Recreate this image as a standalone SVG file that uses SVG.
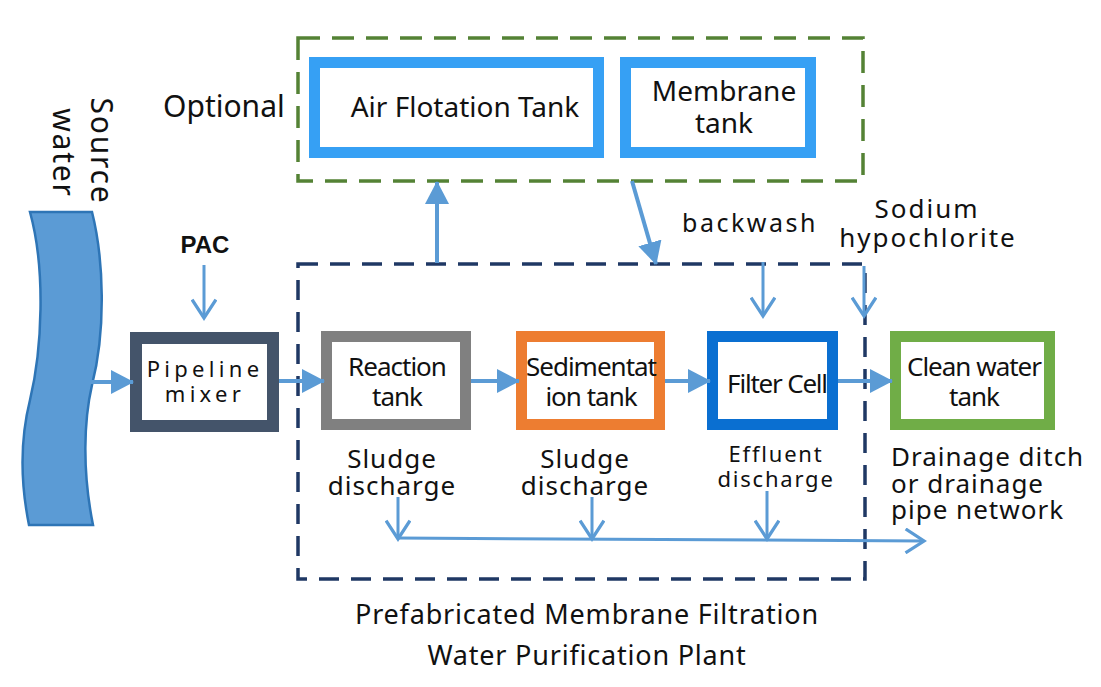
<svg xmlns="http://www.w3.org/2000/svg" width="1101" height="687" viewBox="0 0 1101 687">
<style>
text{font-family:"Noto Sans","DejaVu Sans",sans-serif;fill:#111;}
.box{fill:#fff;}
.lbl{font-size:26px;letter-spacing:-1px;text-anchor:middle;}
.opt{font-size:28px;letter-spacing:0px;text-anchor:middle;}
.cap{font-size:26px;letter-spacing:1px;text-anchor:middle;}
.conn{stroke:#5b9bd5;stroke-width:4;fill:none;}
.thin{stroke:#5b9bd5;stroke-width:3;fill:none;}
</style>
<defs>
<marker id="tri" markerUnits="userSpaceOnUse" markerWidth="24" markerHeight="26" refX="22" refY="12" orient="auto" viewBox="0 0 24 24">
<path d="M0,0 L23,12 L0,24 Z" fill="#5b9bd5"/>
</marker>
<marker id="chev" markerUnits="userSpaceOnUse" markerWidth="26" markerHeight="26" refX="19" refY="12" orient="auto" viewBox="0 0 24 24">
<path d="M2,1 L19,12 L2,23" fill="none" stroke="#5b9bd5" stroke-width="3"/>
</marker>
</defs>
<rect width="1101" height="687" fill="#fff"/>

<g id="source-water">
<path d="M30,212 L92,212 C104,260 106,330 92,385 C84,420 82,470 93,525 L29,525 C20,480 20,440 30,400 C42,350 46,270 30,212 Z" fill="#5b9bd5" stroke="#2e75b6" stroke-width="2.5"/>
<text transform="translate(91,151) rotate(90)" style="font-size:30px;letter-spacing:1.8px;text-anchor:middle">Source</text>
<text transform="translate(53,153) rotate(90)" style="font-size:30px;letter-spacing:1.8px;text-anchor:middle">water</text>
</g>

<g id="optional-group">
<rect x="298" y="38" width="565" height="143" fill="none" stroke="#548235" stroke-width="3.5" stroke-dasharray="22,12"/>
<text x="163" y="117" style="font-size:30px">Optional</text>
</g>

<g id="plant-group">
<rect x="298" y="264" width="567" height="315" fill="none" stroke="#1f3864" stroke-width="3.5" stroke-dasharray="20,12"/>
<text x="587" y="624" style="font-size:27px;letter-spacing:0.8px;text-anchor:middle">Prefabricated Membrane Filtration</text>
<text x="587" y="665" style="font-size:27px;letter-spacing:0.8px;text-anchor:middle">Water Purification Plant</text>
</g>

<g id="pac">
<text x="205" y="253" style="font-family:'Liberation Sans',Arial,sans-serif;font-weight:bold;font-size:24px;text-anchor:middle">PAC</text>
</g>

<g id="pipeline-mixer">
<rect class="box" x="136" y="338" width="137" height="88" stroke="#44546a" stroke-width="12"/>
<text x="205" y="377" style="font-size:22px;letter-spacing:4.3px;text-anchor:middle">Pipeline</text>
<text x="205" y="402" style="font-size:22px;letter-spacing:4.3px;text-anchor:middle">mixer</text>
</g>

<g id="air-flotation-tank">
<rect class="box" x="314.5" y="62.5" width="284" height="90" stroke="#36a0f4" stroke-width="11"/>
<text class="opt" x="465" y="117">Air Flotation Tank</text>
</g>

<g id="membrane-tank">
<rect class="box" x="625.5" y="62.5" width="185" height="90" stroke="#36a0f4" stroke-width="11"/>
<text class="opt" x="724" y="101">Membrane</text>
<text class="opt" x="724" y="133">tank</text>
</g>

<g id="reaction-tank">
<rect class="box" x="326.5" y="336.5" width="139" height="88" stroke="#808080" stroke-width="11"/>
<text class="lbl" x="397" y="376">Reaction</text>
<text class="lbl" x="397" y="406">tank</text>
<text class="cap" x="392" y="468">Sludge</text>
<text class="cap" x="392" y="495">discharge</text>
</g>

<g id="sedimentation-tank">
<rect class="box" x="521.5" y="336.5" width="138" height="88" stroke="#ed7d31" stroke-width="11"/>
<text class="lbl" x="591" y="376">Sedimentat</text>
<text class="lbl" x="591" y="406">ion tank</text>
<text class="cap" x="585" y="468">Sludge</text>
<text class="cap" x="585" y="495">discharge</text>
</g>

<g id="filter-cell">
<rect class="box" x="712.5" y="336.5" width="120" height="88" stroke="#0a6fd1" stroke-width="11"/>
<text class="lbl" x="777" y="393" style="letter-spacing:-1.2px">Filter Cell</text>
<text x="776" y="462" style="font-size:22px;letter-spacing:1.8px;text-anchor:middle">Effluent</text>
<text x="776" y="487" style="font-size:22px;letter-spacing:1.8px;text-anchor:middle">discharge</text>
</g>

<g id="clean-water-tank">
<rect class="box" x="895.5" y="336.5" width="154" height="88" stroke="#70ad47" stroke-width="11"/>
<text class="lbl" x="974" y="376">Clean water</text>
<text class="lbl" x="974" y="406">tank</text>
<text x="891" y="466" style="font-size:26px;letter-spacing:1px">Drainage ditch</text>
<text x="891" y="493" style="font-size:26px;letter-spacing:1px">or drainage</text>
<text x="891" y="519" style="font-size:26px;letter-spacing:1px">pipe network</text>
</g>

<g id="backwash-label">
<text x="750" y="232" style="font-size:25px;letter-spacing:2.5px;text-anchor:middle">backwash</text>
</g>

<g id="sodium-hypochlorite">
<text x="927" y="218" style="font-size:26px;letter-spacing:2px;text-anchor:middle">Sodium</text>
<text x="928" y="247" style="font-size:26px;letter-spacing:2px;text-anchor:middle">hypochlorite</text>
</g>

<g id="connectors">
<line class="conn" x1="88" y1="382" x2="133" y2="382" marker-end="url(#tri)"/>
<line class="conn" x1="279" y1="381" x2="324" y2="381" marker-end="url(#tri)"/>
<line class="conn" x1="471" y1="381" x2="519" y2="381" marker-end="url(#tri)"/>
<line class="conn" x1="665" y1="381" x2="710" y2="381" marker-end="url(#tri)"/>
<line class="conn" x1="838" y1="381" x2="892" y2="381" marker-end="url(#tri)"/>
<line class="conn" x1="437" y1="263" x2="437" y2="182" marker-end="url(#tri)"/>
<line class="conn" x1="632" y1="181" x2="656" y2="264" marker-end="url(#tri)"/>
<line class="thin" x1="204" y1="265" x2="204" y2="318" marker-end="url(#chev)"/>
<line class="thin" x1="763" y1="262" x2="763" y2="316" marker-end="url(#chev)"/>
<line class="thin" x1="864" y1="266" x2="864" y2="316" marker-end="url(#chev)"/>
<line class="thin" x1="398" y1="497" x2="398" y2="539" marker-end="url(#chev)"/>
<line class="thin" x1="592" y1="497" x2="592" y2="539" marker-end="url(#chev)"/>
<line class="thin" x1="767" y1="491" x2="767" y2="539" marker-end="url(#chev)"/>
<line class="thin" x1="398" y1="538" x2="924" y2="541" marker-end="url(#chev)"/>
</g>
</svg>
